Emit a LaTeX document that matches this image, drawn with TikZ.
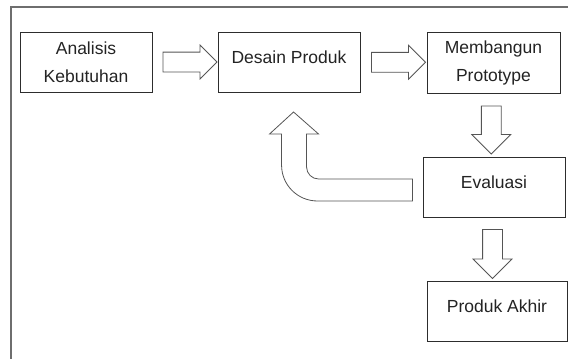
\documentclass[tikz,border=0pt]{standalone}
\usepackage{fontspec}
\setmainfont{Liberation Sans}
\usepackage{tikz}
\usetikzlibrary{shapes.arrows,calc}
\usepackage{xcolor}
\definecolor{boxline}{RGB}{45,45,45}
\definecolor{arrline}{RGB}{85,85,85}
\definecolor{frameline}{RGB}{110,110,110}
\definecolor{txt}{RGB}{35,35,35}

\begin{document}
\begin{tikzpicture}[x=1pt,y=-1pt,
  box/.style={draw=boxline,line width=0.9pt,minimum height=60pt,align=center,
    text=txt,font=\fontsize{17.5}{28}\selectfont,inner sep=0pt},
  onel/.style={text height=12.5pt,text depth=10.5pt},
  blk/.style={draw=arrline,line width=0.8pt,fill=white},
  harr/.style={blk,single arrow,single arrow head extend=7pt,inner sep=0pt,
    text height=9.5pt,text depth=9.5pt,minimum height=54pt},
  varr/.style={blk,single arrow,single arrow head extend=9.5pt,inner sep=0pt,
    text height=9.5pt,text depth=9.5pt,minimum height=48pt,rotate=-90}]
\useasboundingbox (0,0) rectangle (568,359);
% frame
\draw[frameline,line width=1.5pt] (11,359) -- (11,7) -- (568,7);
% steps
\node[box,minimum width=132pt] (ana) at (86,62) {Analisis\\Kebutuhan};
\node[box,onel,minimum width=142pt] (des) at (289,62) {Desain Produk};
\node[box,minimum width=133pt,minimum height=61pt] (bang) at (493.5,62.5) {Membangun\\Prototype};
\node[box,onel,minimum width=142pt] (eval) at (494,187) {Evaluasi};
\node[box,onel,minimum width=140pt] (akhir) at (497,311) {Produk Akhir};
% block arrows
\node[harr] (a1) at ($(ana.east)!0.5!(des.west)$) {};
\node[harr] (a2) at ($(des.east)!0.5!(bang.west)$) {};
\node[varr] (a3) at ($(bang.south)!0.5!(eval.north)+(-2.5,0)$) {};
\node[varr,minimum height=49pt] (a4) at ($(eval.south)!0.5!(akhir.north)+(-3,0)$) {};
% back to design
\coordinate (back) at ($(eval.west)+(-10,-8)$);
\draw[blk] (back) -- ++(-94,0)
  .. controls +(-6.6,0) and +(0,6.6) .. ++(-12,-12)
  -- ++(0,-33) -- ++(12,0) -- ++(-25,-22) -- ++(-24,22) -- ++(12,0)
  -- ++(0,31) .. controls +(0,20) and +(-20,0) .. ++(36,36)
  -- ++(95,0) -- cycle;
\end{tikzpicture}
\end{document}
